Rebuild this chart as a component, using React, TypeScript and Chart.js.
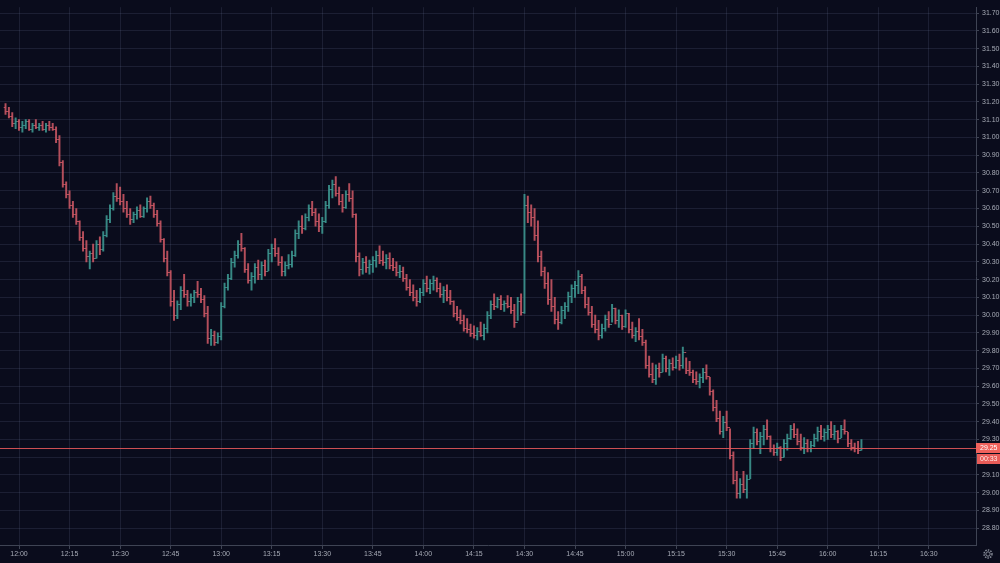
import React, { useEffect, useRef } from 'react';
import { Chart, registerables } from 'chart.js';

Chart.register(...registerables);

// minute offset from 12:00 of the first bar; one bar per minute
const startMinute = -4;

const openPrices = [
  31.17, 31.15, 31.12, 31.08, 31.09, 31.06, 31.07, 31.09, 31.05, 31.07,
  31.06, 31.07, 31.05, 31.07, 31.06, 31.05, 30.99, 30.86, 30.74, 30.68,
  30.62, 30.57, 30.53, 30.44, 30.38, 30.33, 30.35, 30.32, 30.40, 30.37,
  30.45, 30.54, 30.60, 30.67, 30.66, 30.64, 30.60, 30.57, 30.54, 30.57,
  30.59, 30.56, 30.60, 30.64, 30.62, 30.57, 30.52, 30.43, 30.32, 30.24,
  30.08, 30.00, 30.06, 30.14, 30.12, 30.08, 30.10, 30.13, 30.12, 30.09,
  30.01, 29.87, 29.89, 29.85, 29.88, 30.05, 30.16, 30.21, 30.30, 30.34,
  30.40, 30.38, 30.26, 30.20, 30.22, 30.27, 30.23, 30.28, 30.25, 30.35,
  30.38, 30.35, 30.30, 30.25, 30.28, 30.29, 30.34, 30.46, 30.50, 30.49,
  30.55, 30.60, 30.58, 30.53, 30.50, 30.53, 30.62, 30.71, 30.74, 30.69,
  30.64, 30.61, 30.68, 30.66, 30.57, 30.33, 30.26, 30.30, 30.27, 30.29,
  30.31, 30.34, 30.31, 30.30, 30.32, 30.28, 30.27, 30.24, 30.25, 30.21,
  30.16, 30.13, 30.10, 30.08, 30.13, 30.18, 30.15, 30.18, 30.20, 30.15,
  30.12, 30.14, 30.10, 30.08, 30.01, 29.99, 29.97, 29.93, 29.92, 29.90,
  29.89, 29.91, 29.89, 29.93, 30.00, 30.06, 30.05, 30.09, 30.06, 30.07,
  30.05, 30.03, 29.96, 30.08, 30.02, 30.62, 30.58, 30.55, 30.45, 30.33,
  30.25, 30.18, 30.09, 30.05, 29.98, 29.96, 30.03, 30.05, 30.11, 30.15,
  30.17, 30.22, 30.14, 30.06, 30.02, 29.95, 29.92, 29.89, 29.93, 29.98,
  29.95, 30.04, 29.97, 30.00, 29.94, 30.01, 29.92, 29.89, 29.91, 29.88,
  29.85, 29.72, 29.67, 29.64, 29.70, 29.68, 29.76, 29.70, 29.73, 29.71,
  29.75, 29.72, 29.79, 29.69, 29.68, 29.64, 29.63, 29.65, 29.68, 29.66,
  29.57, 29.48, 29.42, 29.35, 29.40, 29.37, 29.21, 29.07, 29.00, 29.05,
  29.02, 29.08, 29.28, 29.34, 29.29, 29.32, 29.36, 29.32, 29.25, 29.23,
  29.26, 29.20, 29.28, 29.31, 29.36, 29.33, 29.29, 29.26, 29.28, 29.25,
  29.27, 29.31, 29.35, 29.32, 29.34, 29.36, 29.33, 29.35, 29.31, 29.36,
  29.35, 29.28, 29.26, 29.25, 29.24,
];

const highPrices = [
  31.19, 31.17, 31.14, 31.11, 31.10, 31.09, 31.10, 31.10, 31.08, 31.10,
  31.08, 31.09, 31.08, 31.09, 31.08, 31.06, 31.01, 30.87, 30.75, 30.70,
  30.64, 30.60, 30.53, 30.47, 30.42, 30.36, 30.40, 30.42, 30.44, 30.47,
  30.56, 30.62, 30.69, 30.74, 30.72, 30.68, 30.64, 30.60, 30.58, 30.61,
  30.62, 30.61, 30.66, 30.67, 30.63, 30.59, 30.53, 30.43, 30.36, 30.25,
  30.14, 30.08, 30.16, 30.23, 30.14, 30.12, 30.14, 30.19, 30.15, 30.11,
  30.05, 29.92, 29.91, 29.90, 30.07, 30.18, 30.23, 30.32, 30.36, 30.42,
  30.46, 30.38, 30.29, 30.24, 30.29, 30.31, 30.30, 30.31, 30.37, 30.40,
  30.43, 30.38, 30.33, 30.30, 30.34, 30.36, 30.48, 30.53, 30.56, 30.57,
  30.62, 30.64, 30.60, 30.57, 30.55, 30.64, 30.73, 30.76, 30.78, 30.72,
  30.68, 30.70, 30.74, 30.70, 30.57, 30.35, 30.32, 30.33, 30.31, 30.33,
  30.36, 30.39, 30.36, 30.34, 30.35, 30.32, 30.30, 30.28, 30.27, 30.23,
  30.20, 30.17, 30.14, 30.15, 30.20, 30.22, 30.20, 30.22, 30.21, 30.18,
  30.16, 30.17, 30.14, 30.08, 30.05, 30.03, 30.00, 29.98, 29.95, 29.94,
  29.93, 29.96, 29.95, 30.02, 30.08, 30.12, 30.10, 30.11, 30.08, 30.11,
  30.10, 30.06, 30.10, 30.12, 30.68, 30.67, 30.62, 30.60, 30.53, 30.36,
  30.27, 30.24, 30.20, 30.10, 30.02, 30.05, 30.07, 30.13, 30.17, 30.19,
  30.25, 30.23, 30.16, 30.10, 30.05, 30.00, 29.97, 29.95, 30.00, 30.02,
  30.06, 30.04, 30.03, 30.00, 30.03, 30.01, 29.96, 29.93, 29.98, 29.92,
  29.86, 29.77, 29.73, 29.72, 29.73, 29.78, 29.77, 29.75, 29.76, 29.77,
  29.78, 29.82, 29.76, 29.74, 29.69, 29.68, 29.67, 29.70, 29.72, 29.65,
  29.58, 29.52, 29.46, 29.43, 29.46, 29.36, 29.23, 29.12, 29.08, 29.12,
  29.10, 29.30, 29.37, 29.36, 29.34, 29.38, 29.41, 29.32, 29.27, 29.28,
  29.26, 29.30, 29.33, 29.38, 29.39, 29.36, 29.33, 29.31, 29.30, 29.29,
  29.33, 29.37, 29.38, 29.36, 29.38, 29.40, 29.38, 29.35, 29.38, 29.41,
  29.34, 29.30, 29.28, 29.29, 29.30,
];

const lowPrices = [
  31.13, 31.11, 31.06, 31.05, 31.04, 31.03, 31.05, 31.04, 31.03, 31.05,
  31.04, 31.04, 31.03, 31.04, 31.04, 30.97, 30.84, 30.72, 30.66, 30.60,
  30.55, 30.51, 30.42, 30.36, 30.30, 30.26, 30.30, 30.32, 30.34, 30.36,
  30.44, 30.52, 30.59, 30.64, 30.62, 30.58, 30.55, 30.51, 30.52, 30.54,
  30.55, 30.55, 30.58, 30.60, 30.55, 30.50, 30.41, 30.30, 30.22, 30.05,
  29.97, 29.98, 30.03, 30.10, 30.05, 30.05, 30.07, 30.10, 30.07, 29.99,
  29.84, 29.83, 29.83, 29.84, 29.86, 30.04, 30.14, 30.20, 30.27, 30.32,
  30.36, 30.24, 30.18, 30.14, 30.18, 30.20, 30.20, 30.22, 30.25, 30.30,
  30.33, 30.28, 30.22, 30.22, 30.26, 30.27, 30.33, 30.43, 30.46, 30.48,
  30.53, 30.56, 30.50, 30.47, 30.46, 30.52, 30.60, 30.66, 30.67, 30.62,
  30.58, 30.60, 30.64, 30.55, 30.30, 30.22, 30.23, 30.24, 30.23, 30.24,
  30.27, 30.29, 30.28, 30.26, 30.26, 30.25, 30.22, 30.21, 30.19, 30.14,
  30.11, 30.08, 30.05, 30.07, 30.11, 30.13, 30.12, 30.14, 30.13, 30.10,
  30.07, 30.08, 30.06, 29.99, 29.97, 29.95, 29.91, 29.90, 29.88, 29.87,
  29.86, 29.88, 29.86, 29.90, 29.98, 30.03, 30.04, 30.03, 30.02, 30.04,
  30.01, 29.93, 29.97, 30.00, 30.01, 30.52, 30.50, 30.42, 30.30, 30.22,
  30.15, 30.06, 30.02, 29.95, 29.92, 29.95, 29.98, 30.02, 30.07, 30.10,
  30.12, 30.12, 30.04, 30.00, 29.93, 29.90, 29.86, 29.87, 29.91, 29.93,
  29.96, 29.95, 29.93, 29.92, 29.93, 29.90, 29.87, 29.85, 29.86, 29.83,
  29.70, 29.65, 29.62, 29.61, 29.65, 29.68, 29.68, 29.66, 29.69, 29.70,
  29.69, 29.70, 29.67, 29.66, 29.62, 29.61, 29.59, 29.62, 29.64, 29.55,
  29.46, 29.40, 29.33, 29.31, 29.35, 29.19, 29.05, 28.97, 28.97, 29.00,
  28.97, 29.08, 29.25, 29.27, 29.22, 29.27, 29.30, 29.23, 29.21, 29.21,
  29.18, 29.20, 29.24, 29.30, 29.31, 29.27, 29.24, 29.22, 29.23, 29.23,
  29.26, 29.29, 29.30, 29.29, 29.30, 29.31, 29.30, 29.28, 29.31, 29.33,
  29.26, 29.24, 29.23, 29.22, 29.24,
];

const closePrices = [
  31.15, 31.12, 31.08, 31.09, 31.06, 31.07, 31.09, 31.05, 31.07, 31.06,
  31.07, 31.05, 31.07, 31.06, 31.05, 30.99, 30.86, 30.74, 30.68, 30.62,
  30.57, 30.53, 30.44, 30.38, 30.33, 30.35, 30.32, 30.40, 30.37, 30.45,
  30.54, 30.60, 30.67, 30.66, 30.64, 30.60, 30.57, 30.54, 30.57, 30.59,
  30.56, 30.60, 30.64, 30.62, 30.57, 30.52, 30.43, 30.32, 30.24, 30.08,
  30.00, 30.06, 30.14, 30.12, 30.08, 30.10, 30.13, 30.12, 30.09, 30.01,
  29.87, 29.89, 29.85, 29.88, 30.05, 30.16, 30.21, 30.30, 30.34, 30.40,
  30.38, 30.26, 30.20, 30.22, 30.27, 30.23, 30.28, 30.25, 30.35, 30.38,
  30.35, 30.30, 30.25, 30.28, 30.29, 30.34, 30.46, 30.50, 30.49, 30.55,
  30.60, 30.58, 30.53, 30.50, 30.53, 30.62, 30.71, 30.74, 30.69, 30.64,
  30.61, 30.68, 30.66, 30.57, 30.33, 30.26, 30.30, 30.27, 30.29, 30.31,
  30.34, 30.31, 30.30, 30.32, 30.28, 30.27, 30.24, 30.25, 30.21, 30.16,
  30.13, 30.10, 30.08, 30.13, 30.18, 30.15, 30.18, 30.20, 30.15, 30.12,
  30.14, 30.10, 30.08, 30.01, 29.99, 29.97, 29.93, 29.92, 29.90, 29.89,
  29.91, 29.89, 29.93, 30.00, 30.06, 30.05, 30.09, 30.06, 30.07, 30.05,
  30.03, 29.96, 30.08, 30.02, 30.62, 30.58, 30.55, 30.45, 30.33, 30.25,
  30.18, 30.09, 30.05, 29.98, 29.96, 30.03, 30.05, 30.11, 30.15, 30.17,
  30.22, 30.14, 30.06, 30.02, 29.95, 29.92, 29.89, 29.93, 29.98, 29.95,
  30.04, 29.97, 30.00, 29.94, 30.01, 29.92, 29.89, 29.91, 29.88, 29.85,
  29.72, 29.67, 29.64, 29.70, 29.68, 29.76, 29.70, 29.73, 29.71, 29.75,
  29.72, 29.79, 29.69, 29.68, 29.64, 29.63, 29.65, 29.68, 29.66, 29.57,
  29.48, 29.42, 29.35, 29.40, 29.37, 29.21, 29.07, 29.00, 29.05, 29.02,
  29.08, 29.28, 29.34, 29.29, 29.32, 29.36, 29.32, 29.25, 29.23, 29.26,
  29.20, 29.28, 29.31, 29.36, 29.33, 29.29, 29.26, 29.28, 29.25, 29.27,
  29.31, 29.35, 29.32, 29.34, 29.36, 29.33, 29.35, 29.31, 29.36, 29.35,
  29.28, 29.26, 29.25, 29.24, 29.25,
];

const xTickMinutes = [0, 15, 30, 45, 60, 75, 90, 105, 120, 135, 150, 165, 180, 195, 210, 225, 240, 255, 270];
const xTickLabels = ['12:00', '12:15', '12:30', '12:45', '13:00', '13:15', '13:30', '13:45', '14:00', '14:15', '14:30', '14:45', '15:00', '15:15', '15:30', '15:45', '16:00', '16:15', '16:30'];
const yTickValues = [28.8, 28.9, 29.0, 29.1, 29.2, 29.3, 29.4, 29.5, 29.6, 29.7, 29.8, 29.9, 30.0, 30.1, 30.2, 30.3, 30.4, 30.5, 30.6, 30.7, 30.8, 30.9, 31.0, 31.1, 31.2, 31.3, 31.4, 31.5, 31.6, 31.7];
const lastPriceLabel = '29.25';
const countdownLabel = '00:33';

const BG = '#0a0c1c';
const GRID = 'rgba(120,132,165,0.17)';
const AXIS = '#3f4454';
const TEXT = '#a7abb6';
const UP = 'rgba(62,152,146,0.88)';
const DOWN = 'rgba(204,88,100,0.88)';
const PRICE = 'rgba(226,86,90,0.9)';
const FONT = '"Liberation Sans", Arial, sans-serif';

export default function App() {
  const canvasRef = useRef<HTMLCanvasElement | null>(null);

  useEffect(() => {
    const canvas = canvasRef.current;
    if (!canvas) return;
    const minutes = closePrices.map((_, i) => startMinute + i);
    const colors = closePrices.map((c, i) => (c >= openPrices[i] ? UP : DOWN));
    const rangeData = minutes.map((m, i) => ({ x: m, y: [lowPrices[i], highPrices[i]] }));

    const ohlcTicks = {
      id: 'ohlcTicks',
      afterDatasetsDraw(chart: any) {
        const { ctx, chartArea } = chart;
        const x = chart.scales.x;
        const y = chart.scales.y;
        ctx.save();
        ctx.beginPath();
        ctx.rect(chartArea.left, chartArea.top, chartArea.right - chartArea.left, chartArea.bottom - chartArea.top);
        ctx.clip();
        ctx.lineWidth = 1;
        for (let i = 0; i < minutes.length; i++) {
          const px = x.getPixelForValue(minutes[i]);
          const yo = Math.round(y.getPixelForValue(openPrices[i])) + 0.5;
          const yc = Math.round(y.getPixelForValue(closePrices[i])) + 0.5;
          ctx.strokeStyle = colors[i];
          ctx.beginPath();
          ctx.moveTo(px - 1.8, yo);
          ctx.lineTo(px, yo);
          ctx.moveTo(px, yc);
          ctx.lineTo(px + 1.8, yc);
          ctx.stroke();
        }
        // last price line
        const py = Math.round(y.getPixelForValue(closePrices[closePrices.length - 1])) + 0.5;
        ctx.strokeStyle = PRICE;
        ctx.beginPath();
        ctx.moveTo(chartArea.left, py);
        ctx.lineTo(chartArea.right, py);
        ctx.stroke();
        ctx.restore();
      },
      afterDraw(chart: any) {
        const { ctx, chartArea } = chart;
        const y = chart.scales.y;
        const py = Math.round(y.getPixelForValue(closePrices[closePrices.length - 1]));
        const left = chartArea.right;
        const w = chart.width - left;
        ctx.save();
        ctx.fillStyle = '#f0625c';
        ctx.fillRect(left, py - 5, w, 10);
        ctx.fillStyle = '#e85c58';
        ctx.fillRect(left + 1, py + 6, w - 1, 10);
        ctx.fillStyle = '#ffffff';
        ctx.font = `7px ${FONT}`;
        ctx.textBaseline = 'middle';
        ctx.textAlign = 'left';
        ctx.fillText(lastPriceLabel, left + 4, py + 0.5);
        ctx.fillStyle = '#ffe9e6';
        ctx.fillText(countdownLabel, left + 4, py + 11.5);
        // settings gear glyph
        const gx = left + 12;
        const gy = chartArea.bottom + 9;
        ctx.strokeStyle = '#8b909c';
        ctx.lineWidth = 1.4;
        ctx.setLineDash([1.5, 1.1]);
        ctx.beginPath();
        ctx.arc(gx, gy, 4, 0, Math.PI * 2);
        ctx.stroke();
        ctx.setLineDash([]);
        ctx.lineWidth = 1;
        ctx.beginPath();
        ctx.arc(gx, gy, 2.2, 0, Math.PI * 2);
        ctx.stroke();
        ctx.restore();
      },
    };

    const chart = new Chart(canvas, {
      type: 'bar',
      data: {
        datasets: [
          {
            data: rangeData as any,
            backgroundColor: colors,
            borderWidth: 0,
            barThickness: 1.3,
            grouped: false,
          } as any,
        ],
      },
      options: {
        animation: false,
        responsive: false,
        maintainAspectRatio: false,
        layout: { padding: 0 },
        plugins: { legend: { display: false }, tooltip: { enabled: false } },
        scales: {
          x: {
            type: 'linear',
            min: -5.64,
            max: 284,
            offset: false,
            grid: { color: GRID, tickColor: AXIS, tickLength: 4, drawTicks: true, offset: false },
            border: { color: AXIS, width: 1 },
            afterBuildTicks: (s: any) => {
              s.ticks = xTickMinutes.map((v) => ({ value: v }));
            },
            ticks: {
              color: TEXT,
              font: { family: FONT, size: 7 },
              padding: 1,
              maxRotation: 0,
              autoSkip: false,
              callback: (v: any) => {
                const k = xTickMinutes.indexOf(Number(v));
                return k >= 0 ? xTickLabels[k] : '';
              },
            },
            afterFit: (s: any) => {
              s.height = 18;
            },
          },
          y: {
            type: 'linear',
            position: 'right',
            min: 28.706,
            max: 31.733,
            grid: { color: GRID, tickColor: AXIS, tickLength: 3, drawTicks: true },
            border: { color: AXIS, width: 1 },
            afterBuildTicks: (s: any) => {
              s.ticks = yTickValues.map((v) => ({ value: v }));
            },
            ticks: {
              color: TEXT,
              font: { family: FONT, size: 7 },
              padding: 3,
              autoSkip: false,
              callback: (v: any) => Number(v).toFixed(2),
            },
            afterFit: (s: any) => {
              s.width = 24;
            },
          },
        },
      },
      plugins: [ohlcTicks],
    });
    return () => chart.destroy();
  }, []);

  return (
    <div style={{ position: 'fixed', left: 0, top: 0, width: 1000, height: 563, background: BG }}>
      <canvas ref={canvasRef} width={1000} height={563} style={{ display: 'block', width: 1000, height: 563 }} />
    </div>
  );
}
